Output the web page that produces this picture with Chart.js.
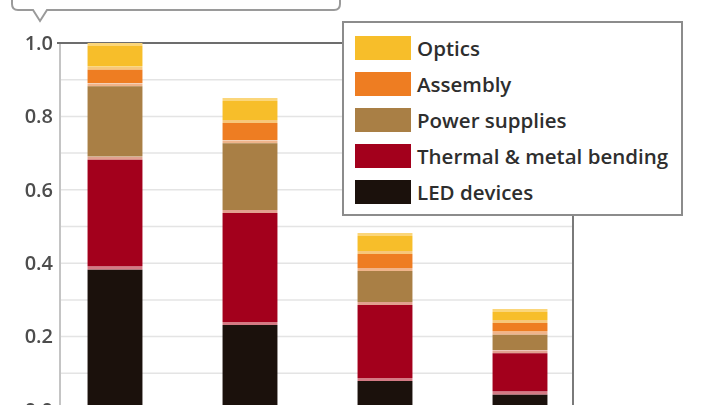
<!DOCTYPE html>
<html>
<head>
<meta charset="utf-8">
<script src="https://cdn.jsdelivr.net/npm/chart.js@4/dist/chart.umd.min.js"></script>
<style>
  html, body { margin: 0; padding: 0; background: #fff; overflow: hidden; }
  #wrap { position: relative; width: 720px; height: 450px; }
  #legend {
    position: absolute; left: 342px; top: 21px; width: 326px; height: 184.5px;
    border: 2px solid #8c8c8c; background: #fff; padding: 6.5px 0 0 11px;
    font-family: "Open Sans", sans-serif; font-size: 20.5px; font-weight: 600; color: #2e2e2e;
  }
  #legend .row { height: 36px; display: flex; align-items: center; white-space: nowrap; }
  #legend .sw { width: 56px; height: 24px; margin-right: 6px; flex: none; }
</style>
</head>
<body>
<div id="wrap">
  <canvas id="chart" width="720" height="450"></canvas>
  <div id="legend"></div>
</div>
<script>
// bar categories (axis labels are cut off in the picture)
var years = ['2010', '2012', '2015', '2020'];

// relative cost, stacked bottom to top
var ledDevices   = [0.39, 0.24, 0.087, 0.05];
var thermal      = [0.30, 0.305, 0.207, 0.113];
var powerSupply  = [0.20, 0.19, 0.093, 0.05];
var assembly     = [0.045, 0.055, 0.046, 0.032];
var optics       = [0.065, 0.06, 0.049, 0.03];

var yMin = 0, yMax = 1, yStep = 0.1;

// frame of the plot, pixels
var frame = { left: 60, right: 573, legendLeft: 342, legendBottom: 216, labelRight: 53 };

function ds(label, data, color, edge) {
  return {
    label: label, data: data, backgroundColor: color,
    borderColor: edge, borderWidth: { top: 3, left: 0, right: 0, bottom: 0 },
    borderSkipped: false, barPercentage: 0.41, categoryPercentage: 1
  };
}

var datasets = [
  ds('LED devices', ledDevices, '#1b110c', '#d47a84'),
  ds('Thermal & metal bending', thermal, '#a3001c', '#e2a08f'),
  ds('Power supplies', powerSupply, '#a97f45', '#f0b48a'),
  ds('Assembly', assembly, '#ee7d22', '#f7c77a'),
  ds('Optics', optics, '#f7be2a', '#fbd67a')
];

var framePlugin = {
  id: 'frame',
  beforeDatasetsDraw: function (chart) {
    var c = chart.ctx, y = chart.scales.y, bottom = chart.chartArea.bottom;
    c.save();
    c.lineWidth = 1.5;
    c.strokeStyle = '#e4e4e4';
    y.ticks.forEach(function (t) {
      if (t.value >= yMax) return;
      var py = y.getPixelForValue(t.value);
      c.beginPath(); c.moveTo(frame.left, py); c.lineTo(frame.right, py); c.stroke();
    });
    var top = y.getPixelForValue(yMax);
    c.lineWidth = 2;
    c.strokeStyle = '#c4c4c4';
    c.beginPath(); c.moveTo(frame.left, top); c.lineTo(frame.left, bottom); c.stroke();
    c.strokeStyle = '#7a7a7a';
    c.beginPath(); c.moveTo(frame.right, frame.legendBottom); c.lineTo(frame.right, bottom); c.stroke();
    c.strokeStyle = '#6d6d6d';
    c.beginPath(); c.moveTo(frame.left - 3, top); c.lineTo(frame.legendLeft, top); c.stroke();

    // tick labels, every second tick
    c.fillStyle = '#4d4d4d';
    c.font = '600 20px "Open Sans"';
    c.textAlign = 'right';
    c.textBaseline = 'middle';
    y.ticks.forEach(function (t) {
      if (Math.round(t.value * 10) % 2) return;
      c.fillText(t.value.toFixed(1), frame.labelRight, y.getPixelForValue(t.value) + 1);
    });
    c.restore();
  },
  afterDraw: function (chart) {
    // callout box cut off at the top of the picture
    var c = chart.ctx;
    c.save();
    c.fillStyle = '#fff';
    c.strokeStyle = '#9a9a9a';
    c.lineWidth = 2;
    c.beginPath();
    c.moveTo(12, -20);
    c.lineTo(12, 4);
    c.quadraticCurveTo(12, 10, 18, 10);
    c.lineTo(33, 10);
    c.lineTo(40, 21);
    c.lineTo(47, 10);
    c.lineTo(334, 10);
    c.quadraticCurveTo(340, 10, 340, 4);
    c.lineTo(340, -20);
    c.fill();
    c.stroke();
    c.restore();
  }
};

new Chart(document.getElementById('chart'), {
  type: 'bar',
  data: { labels: years, datasets: datasets },
  options: {
    responsive: false,
    animation: false,
    layout: { padding: { left: 0, right: 132.5, top: 43, bottom: 40 } },
    plugins: { legend: { display: false }, tooltip: { enabled: false } },
    scales: {
      x: { stacked: true, display: false },
      y: {
        stacked: true, min: yMin, max: yMax,
        border: { display: false },
        grid: { display: false, drawTicks: false },
        afterFit: function (s) { s.width = 47.5; },
        ticks: { stepSize: yStep, display: false }
      }
    }
  },
  plugins: [framePlugin]
});

// legend, top series first
var lg = document.getElementById('legend');
datasets.slice().reverse().forEach(function (d) {
  var row = document.createElement('div');
  row.className = 'row';
  var sw = document.createElement('div');
  sw.className = 'sw';
  sw.style.background = d.backgroundColor;
  var tx = document.createElement('span');
  tx.textContent = d.label;
  row.appendChild(sw);
  row.appendChild(tx);
  lg.appendChild(row);
});
</script>
</body>
</html>
